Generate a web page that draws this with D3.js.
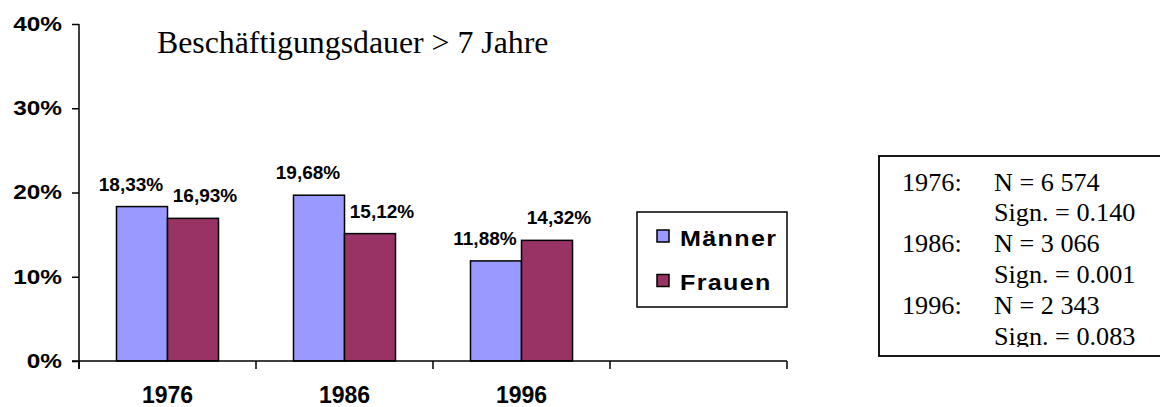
<!DOCTYPE html>
<html>
<head>
<meta charset="utf-8">
<script src="https://cdn.jsdelivr.net/npm/d3@7"></script>
<style>
  html, body { margin: 0; padding: 0; background: #fff; }
  svg { display: block; }
</style>
</head>
<body>
<svg id="chart" width="1160" height="407"></svg>
<script>
// ---- Data ----
const categories = ["1976", "1986", "1996", ""];
const seriesNames = ["Männer", "Frauen"];
const maenner = [18.33, 19.68, 11.88];
const frauen = [16.93, 15.12, 14.32];
const valueLabelsM = ["18,33%", "19,68%", "11,88%"];
const valueLabelsF = ["16,93%", "15,12%", "14,32%"];
const yTicks = [0, 10, 20, 30, 40];
const titleText = "Beschäftigungsdauer > 7 Jahre";
const statYears = ["1976:", "1986:", "1996:"];
const statN = ["N = 6 574", "N = 3 066", "N = 2 343"];
const statSign = ["Sign. = 0.140", "Sign. = 0.001", "Sign. = 0.083"];
const colors = ["#9999ff", "#993366"];

// ---- Layout ----
const svg = d3.select("#chart");
const plot = { left: 79, right: 787, top: 24, bottom: 361 };
const sans = "Arial, 'Liberation Sans', sans-serif";
const serif = "'Times New Roman', 'Liberation Serif', serif";

const y = d3.scaleLinear().domain([0, 40]).range([plot.bottom, plot.top]);
const x = d3.scaleBand().domain(categories).range([plot.left, plot.right]).padding(0);
const x1 = d3.scaleBand().domain(seriesNames).range([0, x.bandwidth()])
  .paddingInner(0).paddingOuter(0.735);

const rows = categories.slice(0, 3).map((c, i) => ({
  cat: c,
  vals: [
    { s: seriesNames[0], v: maenner[i], label: valueLabelsM[i], c: colors[0], dx: -11 },
    { s: seriesNames[1], v: frauen[i], label: valueLabelsF[i], c: colors[1], dx: 12 }
  ]
}));

// Bars
const g = svg.append("g");
const groups = g.selectAll("g.grp").data(rows).join("g")
  .attr("class", "grp")
  .attr("transform", d => `translate(${x(d.cat)},0)`);

groups.selectAll("rect").data(d => d.vals).join("rect")
  .attr("x", d => x1(d.s))
  .attr("y", d => y(d.v))
  .attr("width", x1.bandwidth())
  .attr("height", d => y(0) - y(d.v))
  .attr("fill", d => d.c)
  .attr("stroke", "#000")
  .attr("stroke-width", 1.5);

groups.selectAll("text").data(d => d.vals).join("text")
  .attr("x", d => x1(d.s) + x1.bandwidth() / 2 + d.dx)
  .attr("y", d => y(d.v) - 16)
  .attr("text-anchor", "middle")
  .attr("font-family", sans)
  .attr("font-weight", "bold")
  .attr("font-size", 19)
  .text(d => d.label);

// Y axis
const yAxis = d3.axisLeft(y).tickValues(yTicks).tickSize(7).tickSizeOuter(0)
  .tickFormat(d => d + "%");
const ya = svg.append("g").attr("transform", `translate(${plot.left},0)`).call(yAxis);
ya.select(".domain").attr("stroke", "#000").attr("stroke-width", 1.5)
  .attr("d", `M0,${plot.top}V${plot.bottom + 8}`);
ya.selectAll(".tick line").attr("stroke", "#000").attr("stroke-width", 1.5);
ya.selectAll(".tick text")
  .attr("font-family", sans).attr("font-weight", "bold").attr("font-size", 19.5)
  .attr("fill", "#000")
  .attr("x", -17 / 1.25)
  .attr("dy", "0.33em")
  .attr("transform", "scale(1.25,1)");

// X axis
const xAxis = d3.axisBottom(x).tickSize(0).tickSizeOuter(0);
const xa = svg.append("g").attr("transform", `translate(0,${plot.bottom})`).call(xAxis);
xa.select(".domain").attr("stroke", "#000").attr("stroke-width", 1.5)
  .attr("d", `M${plot.left - 7},0H${plot.right}`);
xa.selectAll(".tick text")
  .attr("font-family", sans).attr("font-weight", "bold").attr("font-size", 23)
  .attr("fill", "#000")
  .attr("y", 26)
  .attr("dy", "0.71em");
// boundary ticks (between categories)
const bounds = categories.map(c => x(c)).concat([plot.right]);
xa.selectAll("line.bt").data(bounds).join("line")
  .attr("class", "bt")
  .attr("x1", d => d).attr("x2", d => d)
  .attr("y1", 0).attr("y2", 8)
  .attr("stroke", "#000").attr("stroke-width", 1.5);

// Title
svg.append("text")
  .attr("x", 157).attr("y", 53)
  .attr("font-family", serif).attr("font-size", 31.8)
  .text(titleText);

// Legend
const lg = svg.append("g");
lg.append("rect").attr("x", 637).attr("y", 212).attr("width", 150).attr("height", 95)
  .attr("fill", "#fff").attr("stroke", "#000").attr("stroke-width", 1.5);
const li = lg.selectAll("g.li").data(seriesNames).join("g")
  .attr("class", "li")
  .attr("transform", (d, i) => `translate(657,${230 + i * 44.5})`);
li.append("rect").attr("width", 12).attr("height", 12)
  .attr("fill", (d, i) => colors[i]).attr("stroke", "#000").attr("stroke-width", 1.5);
li.append("text").attr("x", 23 / 1.14).attr("y", 15.5)
  .attr("transform", "scale(1.14,1)")
  .attr("font-family", sans).attr("font-weight", "bold").attr("font-size", 22)
  .attr("letter-spacing", 1.2)
  .text(d => d);

// Stats box
const defs = svg.append("defs");
defs.append("clipPath").attr("id", "statclip")
  .append("rect").attr("x", 879).attr("y", 156).attr("width", 300).attr("height", 191);
svg.append("rect").attr("x", 879).attr("y", 156).attr("width", 300).attr("height", 200)
  .attr("fill", "#fff").attr("stroke", "#000").attr("stroke-width", 1.8);
const st = svg.append("g").attr("clip-path", "url(#statclip)")
  .attr("font-family", serif).attr("font-size", 26.2);
const lineStep = 30.8;
statYears.forEach((yr, i) => {
  const base = 190.5 + i * 2 * lineStep;
  st.append("text").attr("x", 902).attr("y", base).text(yr);
  st.append("text").attr("x", 994).attr("y", base).text(statN[i]);
  st.append("text").attr("x", 994).attr("y", base + lineStep).text(statSign[i]);
});
</script>
</body>
</html>
